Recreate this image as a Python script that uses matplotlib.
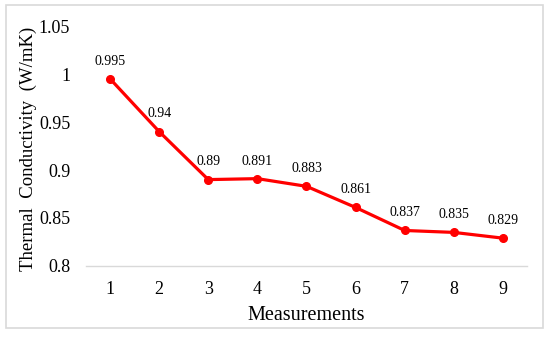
import matplotlib.pyplot as plt
from matplotlib.patches import Rectangle

# Data
measurements = [1, 2, 3, 4, 5, 6, 7, 8, 9]
conductivity = [0.995, 0.94, 0.89, 0.891, 0.883, 0.861, 0.837, 0.835, 0.829]
labels = ["0.995", "0.94", "0.89", "0.891", "0.883", "0.861", "0.837", "0.835", "0.829"]
yticks = [0.8, 0.85, 0.9, 0.95, 1.0, 1.05]
ytick_labels = ["0.8", "0.85", "0.9", "0.95", "1", "1.05"]

plt.rcParams['font.family'] = ['Liberation Serif', 'DejaVu Serif']

fig = plt.figure(figsize=(5.5, 3.37), dpi=100)
# light frame around the chart
fig.patches.append(Rectangle((0.011, 0.027), 0.976, 0.958, transform=fig.transFigure,
                             fill=False, edgecolor='#d9d9d9', linewidth=1.2))
ax = fig.add_axes([0.1555, 0.2107, 0.8035, 0.7121])

ax.plot(measurements, conductivity, color='#ff0000', linewidth=2.3,
        marker='o', markersize=5.5)
for x, y, s in zip(measurements, conductivity, labels):
    ax.annotate(s, (x, y), xytext=(0, 8), textcoords='offset points',
                ha='center', va='bottom', fontsize=10)

ax.set_xlim(0.5, 9.5)
ax.set_ylim(0.8, 1.05)
ax.set_xticks(measurements)
ax.set_yticks(yticks)
ax.set_yticklabels(ytick_labels)
ax.tick_params(length=0, labelsize=13, pad=11)
ax.tick_params(axis='y', pad=11)
for side in ['top', 'right', 'left']:
    ax.spines[side].set_visible(False)
ax.spines['bottom'].set_color('#d9d9d9')
ax.spines['bottom'].set_linewidth(1.0)

ax.set_xlabel("Measurements", fontsize=14.5)
ax.set_ylabel("Thermal  Conductivity  (W/mK)", fontsize=13.5)
ax.xaxis.set_label_coords(0.499, -0.165)
ax.yaxis.set_label_coords(-0.11, 0.49)

fig.savefig("out.png", dpi=100)
